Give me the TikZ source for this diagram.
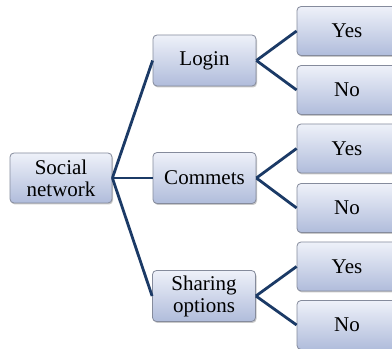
\documentclass[tikz,border=0pt]{standalone}
\usepackage{fontspec}
\setmainfont{Liberation Serif}
\usetikzlibrary{shadows}
\definecolor{linec}{HTML}{1B3A66}
\definecolor{boxtop}{HTML}{EEF1F9}
\definecolor{boxbot}{HTML}{B0BCDB}
\definecolor{boxborder}{HTML}{858B9C}
\tikzset{
  box/.style={draw=boxborder, line width=0.8pt, rounded corners=4pt,
    top color=boxtop, bottom color=boxbot, align=center,
    font=\fontsize{21}{22}\selectfont, inner sep=0pt,
    drop shadow={shadow xshift=1pt, shadow yshift=-1.5pt, opacity=0.35, fill=black!60}},
  midbox/.style={box, minimum width=103pt, minimum height=51pt},
  leaf/.style={box, minimum width=100pt, minimum height=49pt},
  conn/.style={draw=linec, line width=2.8pt}
}
\begin{document}
\begin{tikzpicture}[x=1pt,y=1pt]
\useasboundingbox (0,0) rectangle (392,349);
\clip (0,0) rectangle (392,349);
\fill[white] (0,0) rectangle (392,349);
\node[midbox, minimum width=102pt, minimum height=50pt] (sn) at (61,171) {Social\\network};
\node[midbox] (login) at (204.5,288.5) {Login};
\node[midbox] (comm) at (204.5,171) {Commets};
\node[midbox] (share) at (204,53) {Sharing\\options};
\node[leaf] (y1) at (347,318) {Yes};
\node[leaf] (n1) at (347,259) {No};
\node[leaf] (y2) at (347,200.5) {Yes};
\node[leaf] (n2) at (347,141) {No};
\node[leaf] (y3) at (347,82.5) {Yes};
\node[leaf] (n3) at (347,24) {No};
\foreach \t in {login,comm,share} \draw[conn] (sn.east) -- (\t.west);
\draw[conn] (login.east) -- (y1.west);
\draw[conn] (login.east) -- (n1.west);
\draw[conn] (comm.east) -- (y2.west);
\draw[conn] (comm.east) -- (n2.west);
\draw[conn] (share.east) -- (y3.west);
\draw[conn] (share.east) -- (n3.west);
\end{tikzpicture}
\end{document}
